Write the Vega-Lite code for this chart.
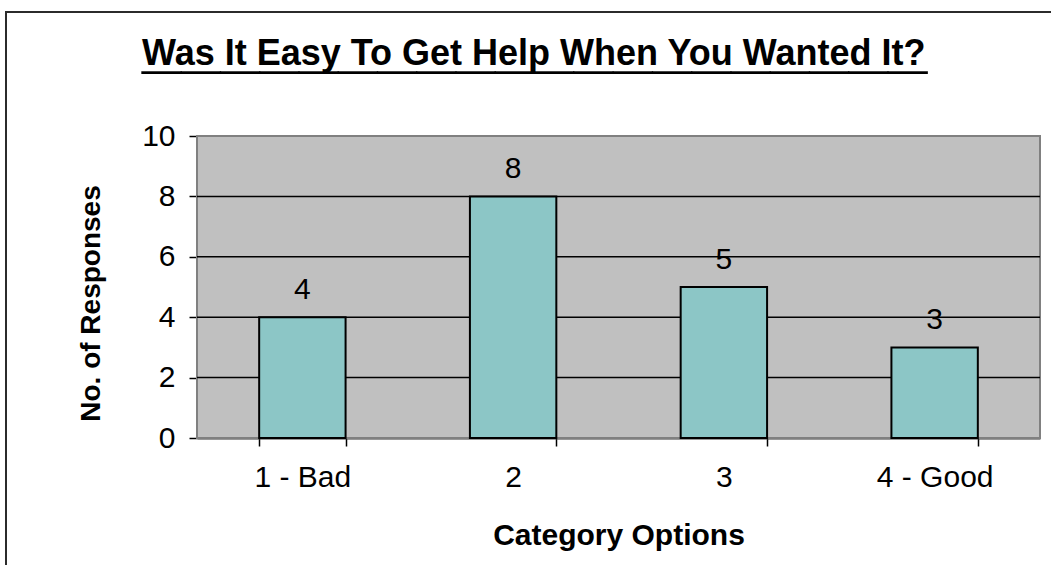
{
  "$schema": "https://vega.github.io/schema/vega-lite/v6.json",
  "autosize": {"type": "none"},
  "padding": {"left": 6, "top": 12, "right": 0, "bottom": 0},
  "width": 1090,
  "height": 600,
  "background": "white",
  "config": {
    "font": "Liberation Sans",
    "view": {"stroke": "#2b2b2b", "strokeWidth": 2, "fill": "white"}
  },
  "title": {
    "text": "Was It Easy To Get Help When You Wanted It?",
    "subtitle": "____________________",
    "anchor": "start",
    "frame": "group",
    "align": "left",
    "baseline": "alphabetic",
    "offset": -124,
    "dx": 136,
    "fontSize": 36,
    "fontWeight": "bold",
    "font": "Liberation Sans",
    "color": "#000000",
    "subtitleFont": "Liberation Sans",
    "subtitleFontSize": 70.6,
    "subtitleFontWeight": "bold",
    "subtitleColor": "#000000",
    "subtitlePadding": -36
  },
  "datasets": {
    "responses": [
      {"option": "1 - Bad", "count": 4},
      {"option": "2", "count": 8},
      {"option": "3", "count": 5},
      {"option": "4 - Good", "count": 3}
    ]
  },
  "data": {"name": "responses"},
  "resolve": {"scale": {"x": "independent"}},
  "layer": [
    {
      "data": {"values": [{}]},
      "mark": {"type": "rect", "fill": "#C0C0C0", "stroke": "#808080", "strokeWidth": 2},
      "encoding": {
        "x": {"datum": 0, "type": "quantitative", "scale": {"domain": [0, 1], "range": [191, 1034]}, "axis": null},
        "x2": {"datum": 1},
        "y": {"datum": 0, "type": "quantitative"},
        "y2": {"datum": 10}
      }
    },
    {
      "data": {"values": [{}]},
      "mark": {"type": "rule", "color": "#000000", "strokeWidth": 1.5},
      "encoding": {
        "x": {"datum": 0, "type": "quantitative", "scale": {"domain": [0, 1], "range": [191, 1034]}, "axis": null},
        "x2": {"datum": 1},
        "y": {"datum": 2, "type": "quantitative"}
      }
    },
    {
      "data": {"values": [{}]},
      "mark": {"type": "rule", "color": "#000000", "strokeWidth": 1.5},
      "encoding": {
        "x": {"datum": 0, "type": "quantitative", "scale": {"domain": [0, 1], "range": [191, 1034]}, "axis": null},
        "x2": {"datum": 1},
        "y": {"datum": 4, "type": "quantitative"}
      }
    },
    {
      "data": {"values": [{}]},
      "mark": {"type": "rule", "color": "#000000", "strokeWidth": 1.5},
      "encoding": {
        "x": {"datum": 0, "type": "quantitative", "scale": {"domain": [0, 1], "range": [191, 1034]}, "axis": null},
        "x2": {"datum": 1},
        "y": {"datum": 6, "type": "quantitative"}
      }
    },
    {
      "data": {"values": [{}]},
      "mark": {"type": "rule", "color": "#000000", "strokeWidth": 1.5},
      "encoding": {
        "x": {"datum": 0, "type": "quantitative", "scale": {"domain": [0, 1], "range": [191, 1034]}, "axis": null},
        "x2": {"datum": 1},
        "y": {"datum": 8, "type": "quantitative"}
      }
    },
    {
      "mark": {"type": "bar", "fill": "#8CC6C6", "stroke": "#000000", "strokeWidth": 2},
      "encoding": {
        "x": {
          "field": "option",
          "type": "nominal",
          "sort": null,
          "scale": {"type": "band", "range": [191, 1034], "paddingInner": 0.59, "paddingOuter": 0.295},
          "axis": {
            "orient": "bottom",
            "offset": -174,
            "title": "Category Options",
            "titleFontSize": 30,
            "titleFontWeight": "bold",
            "titleColor": "#000000",
            "titleBaseline": "alphabetic",
            "titleY": 106,
            "labelAngle": 0,
            "labelFontSize": 30,
            "labelColor": "#000000",
            "labelBaseline": "alphabetic",
            "labelPadding": 40,
            "tickBand": "extent",
            "tickSize": 8,
            "tickColor": "#000000",
            "tickWidth": 1.5,
            "domainColor": "#333333",
            "domainWidth": 2,
            "grid": false
          }
        },
        "y": {
          "field": "count",
          "type": "quantitative",
          "scale": {"domain": [0, 10], "range": [426, 124], "nice": false, "zero": true},
          "axis": {
            "orient": "left",
            "offset": -191,
            "values": [0, 2, 4, 6, 8, 10],
            "format": "d",
            "title": "No. of Responses",
            "titleFontSize": 28,
            "titleFontWeight": "bold",
            "titleColor": "#000000",
            "titleX": -92,
            "titleY": 291,
            "labelFontSize": 30,
            "labelColor": "#000000",
            "labelPadding": 14,
            "tickSize": 8,
            "tickColor": "#000000",
            "tickWidth": 1.5,
            "domainColor": "#000000",
            "domainWidth": 2,
            "grid": false
          }
        }
      }
    },
    {
      "mark": {"type": "text", "fontSize": 30, "color": "#000000", "baseline": "alphabetic", "dy": -18},
      "encoding": {
        "x": {
          "field": "option",
          "type": "nominal",
          "sort": null,
          "scale": {"type": "band", "range": [191, 1034], "paddingInner": 0.59, "paddingOuter": 0.295},
          "axis": null
        },
        "y": {"field": "count", "type": "quantitative"},
        "text": {"field": "count", "type": "quantitative"}
      }
    }
  ]
}
